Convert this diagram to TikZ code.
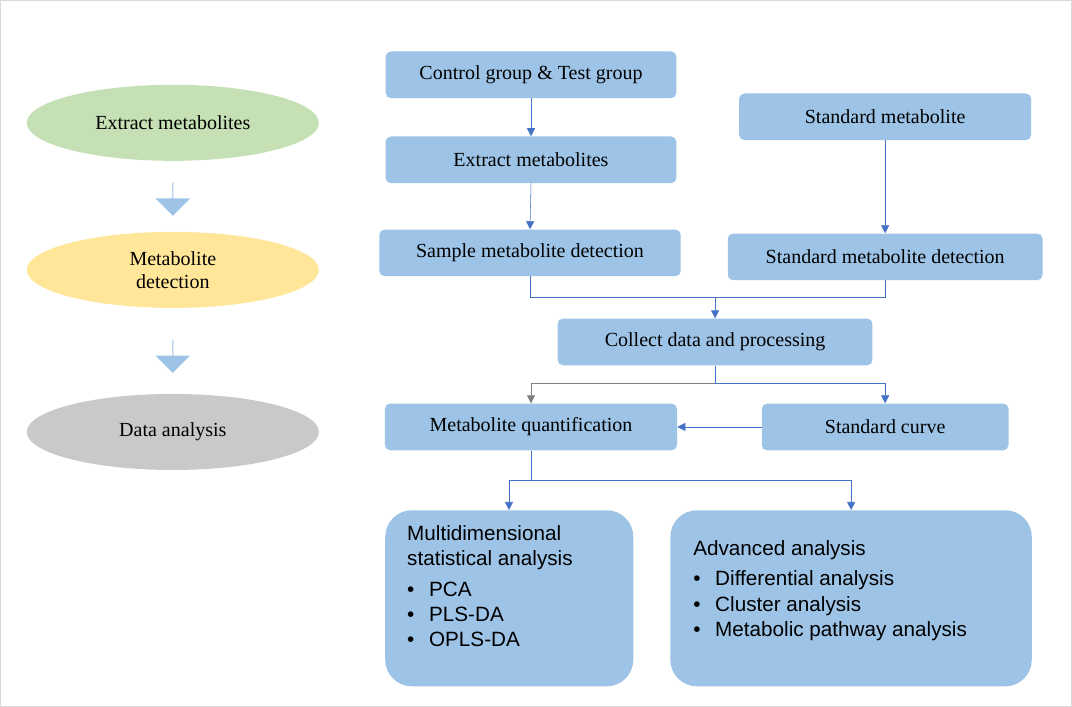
\documentclass[tikz,border=0pt]{standalone}
\usepackage{fontspec}
\setmainfont{Liberation Serif}
\newfontfamily\sansf{Liberation Sans}
\usetikzlibrary{positioning,arrows.meta,shapes.geometric,shapes.arrows}
\definecolor{boxblue}{HTML}{9DC3E6}
\definecolor{lineblue}{HTML}{4472C4}
\definecolor{ellgreen}{HTML}{C5E0B4}
\definecolor{ellyellow}{HTML}{FFE699}
\definecolor{ellgray}{HTML}{C9C9C9}
\tikzset{
  x=0.75pt, y=-0.75pt,
  stage/.style={ellipse, minimum width=219pt, minimum height=57pt, align=center, font=\fontsize{15}{17}\selectfont},
  procbox/.style={rectangle, rounded corners=4pt, fill=boxblue, minimum height=35pt, font=\fontsize{15}{17}\selectfont},
  result/.style={rectangle, rounded corners=20pt, fill=boxblue, minimum height=132pt, font=\sansf\fontsize{15.5}{19}\selectfont, align=left, anchor=north west, inner sep=0pt},
  flow/.style={draw=lineblue, -{Triangle[length=6pt,width=6pt]}},
  link/.style={draw=lineblue},
  fat/.style={single arrow, fill=boxblue, draw=none, rotate=-90, minimum height=25pt, single arrow head extend=6pt, minimum width=26pt, inner sep=0pt}
}
\begin{document}
\begin{tikzpicture}
  \draw[gray!30, fill=white] (0.5,0.5) rectangle (1071.5,706.5);
  % left column
  \node[stage, fill=ellgreen] (extract) at (173,123) {Extract metabolites};
  \node[stage, fill=ellyellow] (detect) at (173,270) {Metabolite\\detection};
  \node[stage, fill=ellgray] (analysis) at (173,432) {Data analysis};
  \node[fat] (a1) at (173,199) {};
  \node[fat] (a2) at (173,356) {};
  % flow chart
  \node[procbox, minimum width=218pt] (groups) at (531,75) {Control group \& Test group};
  \node[procbox, minimum width=218pt] (extr) at (531,160) {Extract metabolites};
  \node[procbox, minimum width=226pt] (sample) at (530,253) {Sample metabolite detection};
  \node[procbox, minimum width=219pt] (std) at (885,117) {Standard metabolite};
  \node[procbox, minimum width=236pt] (stddet) at (885,257) {Standard metabolite detection};
  \node[procbox, minimum width=236pt] (collect) at (715,342) {Collect data and processing};
  \node[procbox, minimum width=219pt] (quant) at (531,427) {Metabolite quantification};
  \node[procbox, minimum width=185pt] (curve) at (885,427) {Standard curve};
  \node[result, minimum width=186pt] (multi) at (385,510) {};
  \node[result, minimum width=271pt] (adv) at (670,510) {};
  \node[anchor=north west, font=\sansf\fontsize{15.5}{19}\selectfont, align=left, inner sep=0pt] (multitxt) at (407,525)
    {Multidimensional\\statistical analysis\\[4pt]
     \textbullet\hspace{11pt}PCA\\ \textbullet\hspace{11pt}PLS-DA\\ \textbullet\hspace{11pt}OPLS-DA};
  \node[anchor=north west, font=\sansf\fontsize{15.5}{19}\selectfont, align=left, inner sep=0pt] (advtxt) at (693,540)
    {Advanced analysis\\[4pt]
     \textbullet\hspace{11pt}Differential analysis\\ \textbullet\hspace{11pt}Cluster analysis\\ \textbullet\hspace{11pt}Metabolic pathway analysis};
  % connectors
  \coordinate (j1) at (715,297);
  \coordinate (j2) at (715,383);
  \coordinate (j3) at (531,480);
  \coordinate (m1) at (509,510);
  \coordinate (m2) at (851,510);
  \draw[flow] (groups) -- (extr);
  \draw[flow] (extr.south) -- (sample.north);
  \draw[flow] (std) -- (stddet);
  \draw[link] (sample.south) |- (j1) -| (stddet.south);
  \draw[flow] (j1) -- (collect);
  \draw[link] (collect.south) -- (j2);
  \draw[draw=gray, -{Triangle[length=6pt,width=6pt]}] (j2) -| (quant.north);
  \draw[flow] (j2) -| (curve.north);
  \draw[flow] (curve) -- (quant);
  \draw[link] (quant.south) -- (j3);
  \draw[flow] (j3) -| (m1);
  \draw[flow] (j3) -| (m2);
\end{tikzpicture}
\end{document}
